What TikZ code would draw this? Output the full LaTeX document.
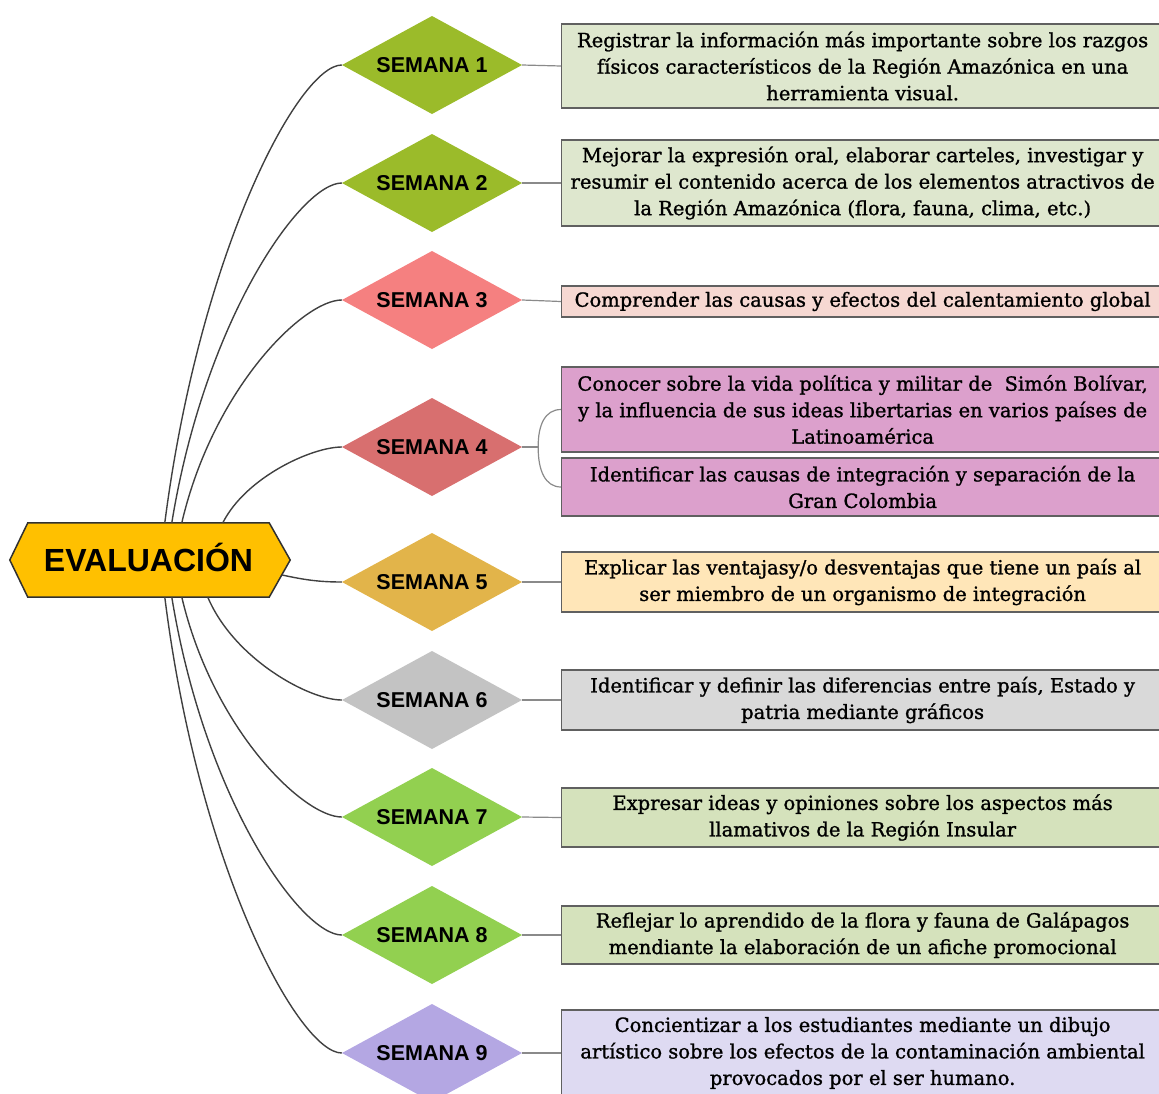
\documentclass[tikz,border=0pt]{standalone}
\usepackage{fontspec}
\setmainfont{DejaVu Serif}
\newfontfamily\objfont[FakeBold=1.2]{DejaVu Serif}
\newfontfamily\lsans{Liberation Sans}
\usetikzlibrary{backgrounds}
\definecolor{hexfill}{HTML}{FFC000}
\definecolor{hexline}{HTML}{303030}
\definecolor{dA}{HTML}{9BBB2A}
\definecolor{dC}{HTML}{F58080}
\definecolor{dD}{HTML}{D86F6F}
\definecolor{dE}{HTML}{E2B44A}
\definecolor{dF}{HTML}{C3C3C3}
\definecolor{dG}{HTML}{92D050}
\definecolor{dI}{HTML}{B4A7E3}
\definecolor{bA}{HTML}{DEE7CE}
\definecolor{bC}{HTML}{F6D8D2}
\definecolor{bD}{HTML}{DCA0CC}
\definecolor{bE}{HTML}{FFE6B8}
\definecolor{bF}{HTML}{D9D9D9}
\definecolor{bG}{HTML}{D5E2BC}
\definecolor{bI}{HTML}{DEDAF2}
\definecolor{boxline}{HTML}{606060}
\definecolor{curvec}{HTML}{404040}
\definecolor{rline}{HTML}{8A8A8A}
\begin{document}
\begin{tikzpicture}[x=1pt,y=-1pt,
  wk/.style={rectangle, minimum width=180, minimum height=98, inner sep=0pt,
    text height=15.5, text depth=0pt,
    font=\lsans\bfseries\fontsize{21.5}{21.5}\selectfont,
    path picture={\fill[#1] (path picture bounding box.west)
      -- (path picture bounding box.north) -- (path picture bounding box.east)
      -- (path picture bounding box.south) -- cycle;}},
  obj/.style={draw=boxline, line width=1.3pt, minimum width=602, anchor=west,
    align=center, inner sep=0pt, font=\objfont\fontsize{19.5}{26.5}\selectfont},
  lc/.style={draw=curvec, line width=1.4pt},
  rc/.style={draw=rline, line width=1.2pt}]
\useasboundingbox (0,0) rectangle (1159,1093);

% central node
\node[rectangle, minimum width=241, minimum height=74, inner sep=0pt,
  text height=23, text depth=0pt,
  font=\lsans\bfseries\fontsize{32}{32}\selectfont] (ev) at (148.5,560) {EVALUACIÓN};
\begin{scope}[on background layer]
\filldraw[fill=hexfill, draw=hexline, line width=1.5pt]
  (ev.north west) -- (ev.north east) -- ([xshift=21]ev.east) -- (ev.south east)
  -- (ev.south west) -- ([xshift=-18]ev.west) -- cycle;
\end{scope}

% week diamonds
\node[wk=dA] (s1) at (432,65) {SEMANA 1};
\node[wk=dA] (s2) at (432,183) {SEMANA 2};
\node[wk=dC] (s3) at (432,300) {SEMANA 3};
\node[wk=dD] (s4) at (432,447) {SEMANA 4};
\node[wk=dE] (s5) at (432,582) {SEMANA 5};
\node[wk=dF] (s6) at (432,700) {SEMANA 6};
\node[wk=dG] (s7) at (432,817) {SEMANA 7};
\node[wk=dG] (s8) at (432,935) {SEMANA 8};
\node[wk=dI] (s9) at (432,1053) {SEMANA 9};

% objective boxes
\node[obj, fill=bA, minimum height=84] (o1) at (561,66)
  {Registrar la información más importante sobre los razgos\\
   físicos característicos de la Región Amazónica en una\\
   herramienta visual.};
\node[obj, fill=bA, minimum height=86] (o2) at (561,183)
  {Mejorar la expresión oral, elaborar carteles, investigar y\\
   resumir el contenido acerca de los elementos atractivos de\\
   la Región Amazónica (flora, fauna, clima, etc.)};
\node[obj, fill=bC, minimum height=31] (o3) at (561,301.5)
  {Comprender las causas y efectos del calentamiento global};
\node[obj, fill=bD, minimum height=85] (o4a) at (561,409.5)
  {Conocer sobre la vida política y militar de\ \ Simón Bolívar,\\
   y la influencia de sus ideas libertarias en varios países de\\
   Latinoamérica};
\node[obj, fill=bD, minimum height=58] (o4b) at (561,487)
  {Identificar las causas de integración y separación de la\\
   Gran Colombia};
\node[obj, fill=bE, minimum height=60] (o5) at (561,582)
  {Explicar las ventajasy/o desventajas que tiene un país al\\
   ser miembro de un organismo de integración};
\node[obj, fill=bF, minimum height=60] (o6) at (561,700)
  {Identificar y definir las diferencias entre país, Estado y\\
   patria mediante gráficos};
\node[obj, fill=bG, minimum height=59] (o7) at (561,817.5)
  {Expresar ideas y opiniones sobre los aspectos más\\
   llamativos de la Región Insular};
\node[obj, fill=bG, minimum height=58] (o8) at (561,935)
  {Reflejar lo aprendido de la flora y fauna de Galápagos\\
   mendiante la elaboración de un afiche promocional};
\node[obj, fill=bI, minimum height=86] (o9) at (561,1053)
  {Concientizar a los estudiantes mediante un dibujo\\
   artístico sobre los efectos de la contaminación ambiental\\
   provocados por el ser humano.};

% left curves
\draw[lc] ([xshift=137]ev.north west) .. controls (200,250) and (299,65) .. (s1.west);
\draw[lc] ([xshift=144]ev.north west) .. controls (205,319) and (301,183) .. (s2.west);
\draw[lc] ([xshift=154]ev.north west) .. controls (213,389) and (303,300) .. (s3.west);
\draw[lc] ([xshift=195]ev.north west) .. controls (246,477) and (312,447) .. (s4.west);
\draw[lc] ([shift={(13,15)}]ev.east) .. controls (305,580) and (320,582) .. (s5.west);
\draw[lc] ([xshift=180]ev.south west) .. controls (234,659) and (309,700) .. (s6.west);
\draw[lc] ([xshift=154]ev.south west) .. controls (213,729) and (303,817) .. (s7.west);
\draw[lc] ([xshift=144]ev.south west) .. controls (205,800) and (301,935) .. (s8.west);
\draw[lc] ([xshift=137]ev.south west) .. controls (199,870) and (299,1053) .. (s9.west);

% right connectors
\draw[rc] (s1.east) -- (o1.west);
\draw[rc] (s2.east) -- (o2.west);
\draw[rc] (s3.east) -- (o3.west);
\draw[rc] (s4.east) -- ++(16,0) coordinate (br);
\draw[rc] (o4a.west) .. controls (545,409.5) and (538,425) .. (br)
  .. controls (538,470) and (545,487) .. (o4b.west);
\draw[rc] (s5.east) -- (o5.west);
\draw[rc] (s6.east) -- (o6.west);
\draw[rc] (s7.east) -- (o7.west);
\draw[rc] (s8.east) -- (o8.west);
\draw[rc] (s9.east) -- (o9.west);
\end{tikzpicture}
\end{document}
